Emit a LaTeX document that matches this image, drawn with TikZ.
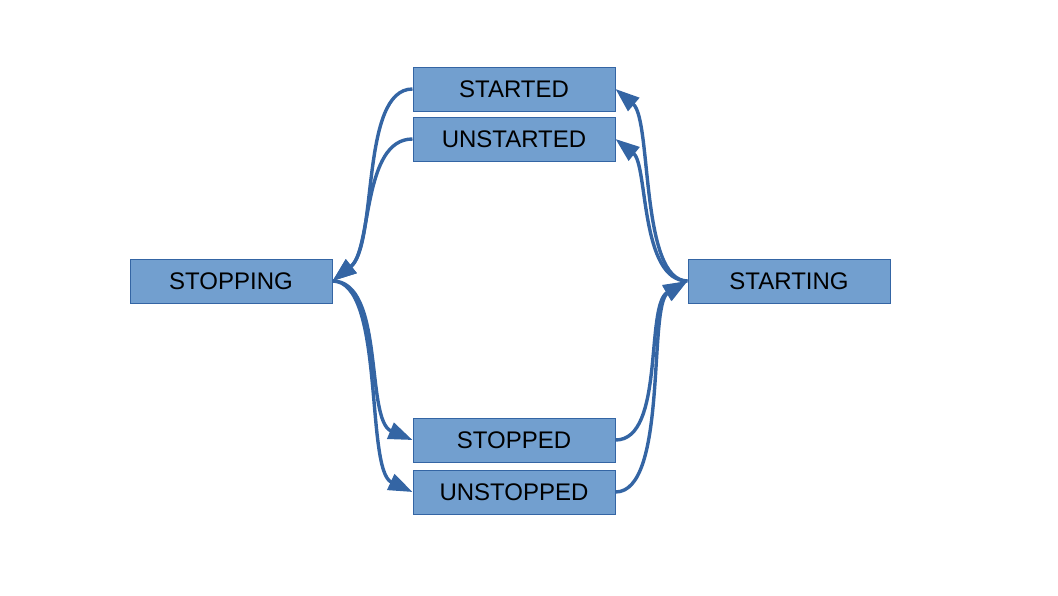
\documentclass[tikz,border=0pt]{standalone}
\usepackage{fontspec}
\setmainfont{Liberation Sans}
\usetikzlibrary{arrows.meta}
\definecolor{boxfill}{HTML}{729FCF}
\definecolor{boxline}{HTML}{3465A4}
\definecolor{arrowc}{HTML}{3465A4}
\begin{document}
\begin{tikzpicture}[x=0.5pt,y=-0.5pt,
  state/.style={draw=boxline, fill=boxfill, line width=0.5pt, minimum width=101pt, minimum height=22pt, inner sep=0pt, font=\fontsize{12}{14}\selectfont, text=black},
  conn/.style={draw=arrowc, line width=1.7pt, -{Triangle[length=12pt,width=8.5pt]}}]
\useasboundingbox (0,0) rectangle (1058,595);
\node[state] (started) at (514,89) {STARTED};
\node[state] (unstarted) at (514,139) {UNSTARTED};
\node[state] (stopping) at (231,281) {STOPPING};
\node[state] (starting) at (789,281) {STARTING};
\node[state] (stopped) at (514,440) {STOPPED};
\node[state] (unstopped) at (514,492) {UNSTOPPED};
\draw[conn] (started.west) .. controls (360,89) and (378,245) .. (stopping.east);
\draw[conn] (unstarted.west) .. controls (362,139) and (372,250) .. (stopping.east);
\draw[conn] (stopping.east) .. controls (385,281) and (365,420) .. (stopped.west);
\draw[conn] (stopping.east) .. controls (385,281) and (365,470) .. (unstopped.west);
\draw[conn] (stopped.east) .. controls (665,440) and (645,305) .. (starting.west);
\draw[conn] (unstopped.east) .. controls (668,492) and (648,305) .. (starting.west);
\draw[conn] (starting.west) .. controls (640,281) and (652,120) .. (started.east);
\draw[conn] (starting.west) .. controls (640,281) and (648,165) .. (unstarted.east);
\end{tikzpicture}
\end{document}
